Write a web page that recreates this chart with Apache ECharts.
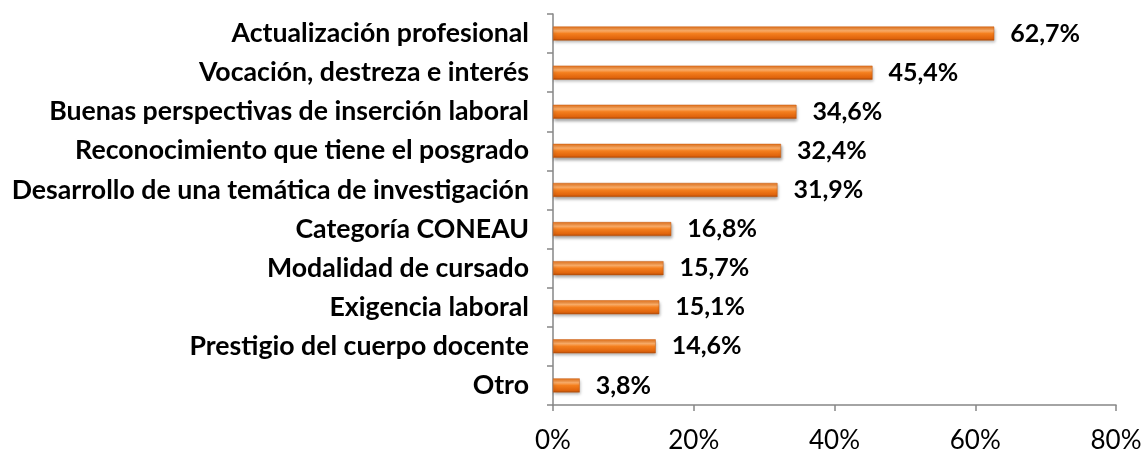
<!DOCTYPE html>
<html>
<head>
<meta charset="utf-8">
<script src="https://cdn.jsdelivr.net/npm/echarts@6/dist/echarts.min.js"></script>
<style>
  html, body { margin: 0; padding: 0; background: #fff; }
  #chart { width: 1145px; height: 454px; }
</style>
</head>
<body>
<div id="chart"></div>
<script>
// categories from bottom to top (category axis starts at the bottom)
const categories = [
  'Otro',
  'Prestigio del cuerpo docente',
  'Exigencia laboral',
  'Modalidad de cursado',
  'Categoría CONEAU',
  'Desarrollo de una temática de investigación',
  'Reconocimiento que tiene el posgrado',
  'Buenas perspectivas de inserción laboral',
  'Vocación, destreza e interés',
  'Actualización profesional'
];
const values = [3.8, 14.6, 15.1, 15.7, 16.8, 31.9, 32.4, 34.6, 45.4, 62.7];

const chart = echarts.init(document.getElementById('chart'));

const barGradient = new echarts.graphic.LinearGradient(0, 0, 0, 1, [
  { offset: 0, color: '#E8731A' },
  { offset: 0.3, color: '#FBAE6A' },
  { offset: 0.5, color: '#F47F1E' },
  { offset: 0.85, color: '#E0640C' },
  { offset: 1, color: '#A8470A' }
]);

chart.setOption({
  animation: false,
  textStyle: { fontFamily: 'Lato' },
  grid: { left: 553, right: 29, top: 14, bottom: 45, containLabel: false },
  xAxis: {
    type: 'value',
    min: 0,
    max: 80,
    interval: 20,
    axisLine: { show: true, lineStyle: { color: '#868686', width: 1.5 } },
    axisTick: { show: true, length: 6, inside: false, lineStyle: { color: '#868686', width: 1.5 } },
    splitLine: { show: false },
    axisLabel: {
      color: '#000',
      fontSize: 26,
      margin: 23,
      formatter: (v) => v + '%'
    }
  },
  yAxis: {
    type: 'category',
    data: categories,
    axisLine: { show: true, lineStyle: { color: '#868686', width: 1.5 } },
    axisTick: { show: true, length: 6, lineStyle: { color: '#868686', width: 1.5 } },
    axisLabel: {
      color: '#000',
      fontSize: 26.7,
      fontWeight: 'bold',
      margin: 24
    }
  },
  series: [{
    type: 'bar',
    data: values,
    barWidth: 14,
    itemStyle: {
      color: barGradient,
      borderColor: '#C55A11',
      borderWidth: 0.5,
      shadowColor: 'rgba(0,0,0,0.35)',
      shadowBlur: 3,
      shadowOffsetX: 1,
      shadowOffsetY: 2
    },
    label: {
      show: true,
      position: 'right',
      distance: 16,
      color: '#000',
      fontSize: 25,
      fontWeight: 'bold',
      formatter: (p) => p.value.toFixed(1).replace('.', ',') + '%'
    }
  }]
});
</script>
</body>
</html>
